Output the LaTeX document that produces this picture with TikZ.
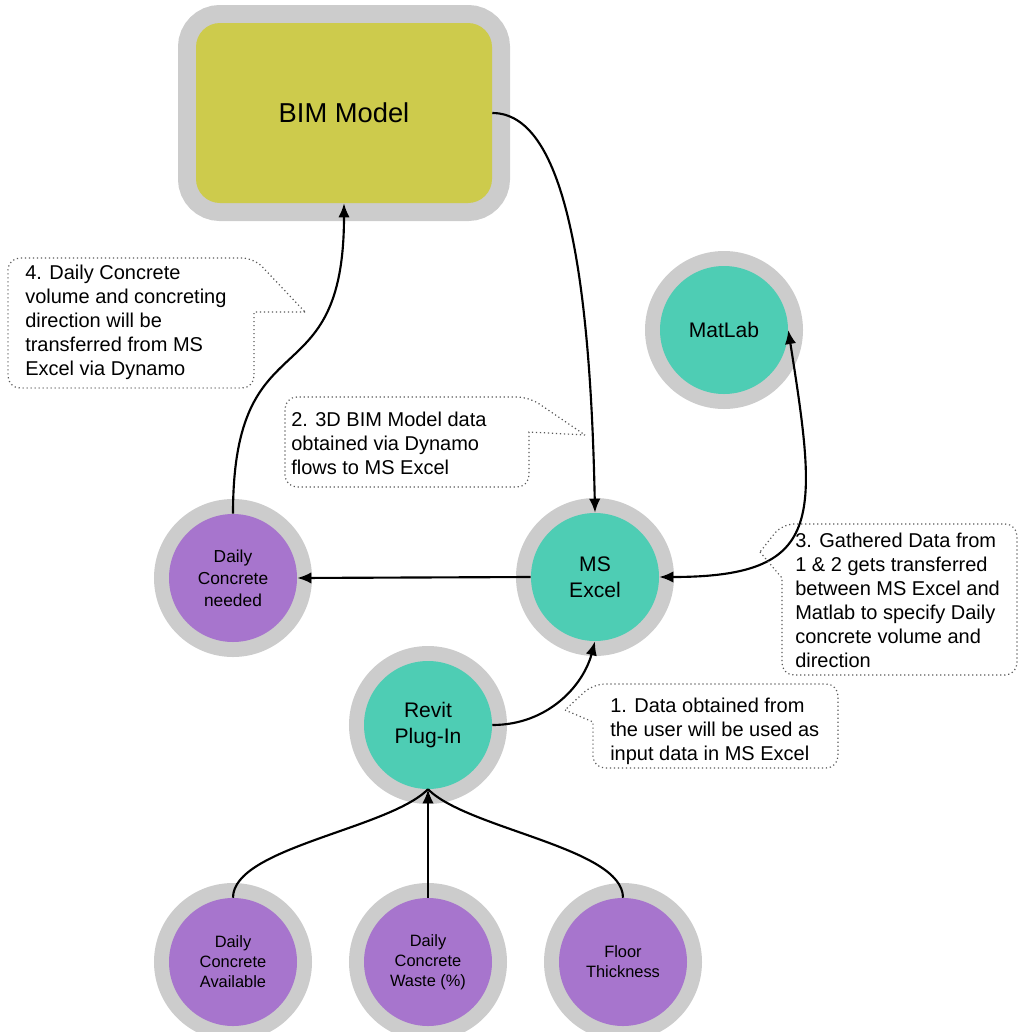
\documentclass[tikz,border=0pt]{standalone}
\usepackage{fontspec}
\usetikzlibrary{arrows.meta}
\setmainfont{Liberation Sans}
\definecolor{ringgray}{HTML}{CCCCCC}
\definecolor{tealfill}{HTML}{4ECDB4}
\definecolor{purplefill}{HTML}{A775CD}
\definecolor{olivefill}{HTML}{CDCB4C}
\begin{document}
\begin{tikzpicture}[
		x=0.75pt, y=-0.75pt,
		>={Latex[length=10.5pt,width=8.5pt]},
		every node/.style={font=\fontsize{13}{16.5}\selectfont},
		bimnode/.style={rectangle, rounded corners=18pt, fill=olivefill, minimum width=222pt, minimum height=135pt, preaction={draw=ringgray, line width=27pt}, font=\fontsize{20.5}{24}\selectfont},
		toolnode/.style={circle, fill=tealfill, minimum size=96pt, inner sep=0pt, align=center, preaction={draw=ringgray, line width=22.5pt}, font=\fontsize{15.8}{19.5}\selectfont},
		datanode/.style={circle, fill=purplefill, minimum size=96pt, inner sep=0pt, align=center, preaction={draw=ringgray, line width=22.5pt}},
		smalltext/.style={font=\fontsize{12.3}{15}\selectfont},
		note/.style={draw=black!65, line width=0.9pt, dash pattern=on 0.9pt off 2.1pt},
		notetext/.style={anchor=north west, inner sep=0pt, align=left, font=\fontsize{15}{18}\selectfont},
		flow/.style={draw, line width=1.6pt, ->}
	]
	\useasboundingbox (0,0) rectangle (1019,1032);
	\node[bimnode] (bim) at (344,113) {BIM Model};
	\node[toolnode] (matlab) at (724,330) {MatLab};
	\node[toolnode] (excel) at (595,577) {MS\\Excel};
	\node[datanode] (needed) at (233,578) {Daily\\Concrete\\needed};
	\node[toolnode] (revit) at (428,725) {Revit\\Plug-In};
	\node[datanode, smalltext] (avail) at (233,962) {Daily\\Concrete\\Available};
	\node[datanode, smalltext] (waste) at (428,962) {Daily\\Concrete\\Waste (\%)};
	\node[datanode, smalltext] (floor) at (623,962) {Floor\\Thickness};

	\draw[flow] (bim.east) .. controls +(70,0) and +(-5,-250) .. (excel.north);
	\draw[flow] (needed.north) .. controls +(0,-200) and +(0,200) .. (bim.south);
	\draw[flow] (excel.west) -- (needed.east);
	\draw[flow, <->] (excel.east) .. controls +(165,0) and +(30,190) .. (matlab.east);
	\draw[flow] (revit.east) .. controls +(55,0) and +(-12,45) .. (excel.south);
	\draw[flow, -] (avail.north) .. controls +(0,-50) and +(-40,40) .. (revit.south);
	\draw[flow, -] (floor.north) .. controls +(0,-50) and +(40,40) .. (revit.south);
	\draw[flow] (waste.north) -- (revit.south);

	\node[notetext] (note4) at (25,265) {4. Daily Concrete\\volume and concreting\\direction will be\\transferred from MS\\Excel via Dynamo};
	\draw[note] (305,312) -- (254,312) [rounded corners=9pt] -- (254,388) -- (8,388) -- (8,258) -- (254,258) [sharp corners] -- cycle;
	\node[notetext] (note2) at (291,412) {2. 3D BIM Model data\\obtained via Dynamo\\flows to MS Excel};
	\draw[note] (585,435) -- (529,432) [rounded corners=9pt] -- (529,487) -- (285,487) -- (285,397) -- (529,397) [sharp corners] -- cycle;
	\node[notetext] (note3) at (795,533) {3. Gathered Data from\\1 \& 2 gets transferred\\between MS Excel and\\Matlab to specify Daily\\concrete volume and\\direction};
	\draw[note] (760,552) -- (782,578) [rounded corners=9pt] -- (782,675) -- (1017,675) -- (1017,524) -- (782,524) [sharp corners] -- cycle;
	\node[notetext] (note1) at (610,698) {1. Data obtained from\\the user will be used as\\input data in MS Excel};
	\draw[note] (565,710) -- (593,722) [rounded corners=9pt] -- (593,768) -- (838,768) -- (838,684) -- (593,684) [sharp corners] -- cycle;
\end{tikzpicture}
\end{document}
